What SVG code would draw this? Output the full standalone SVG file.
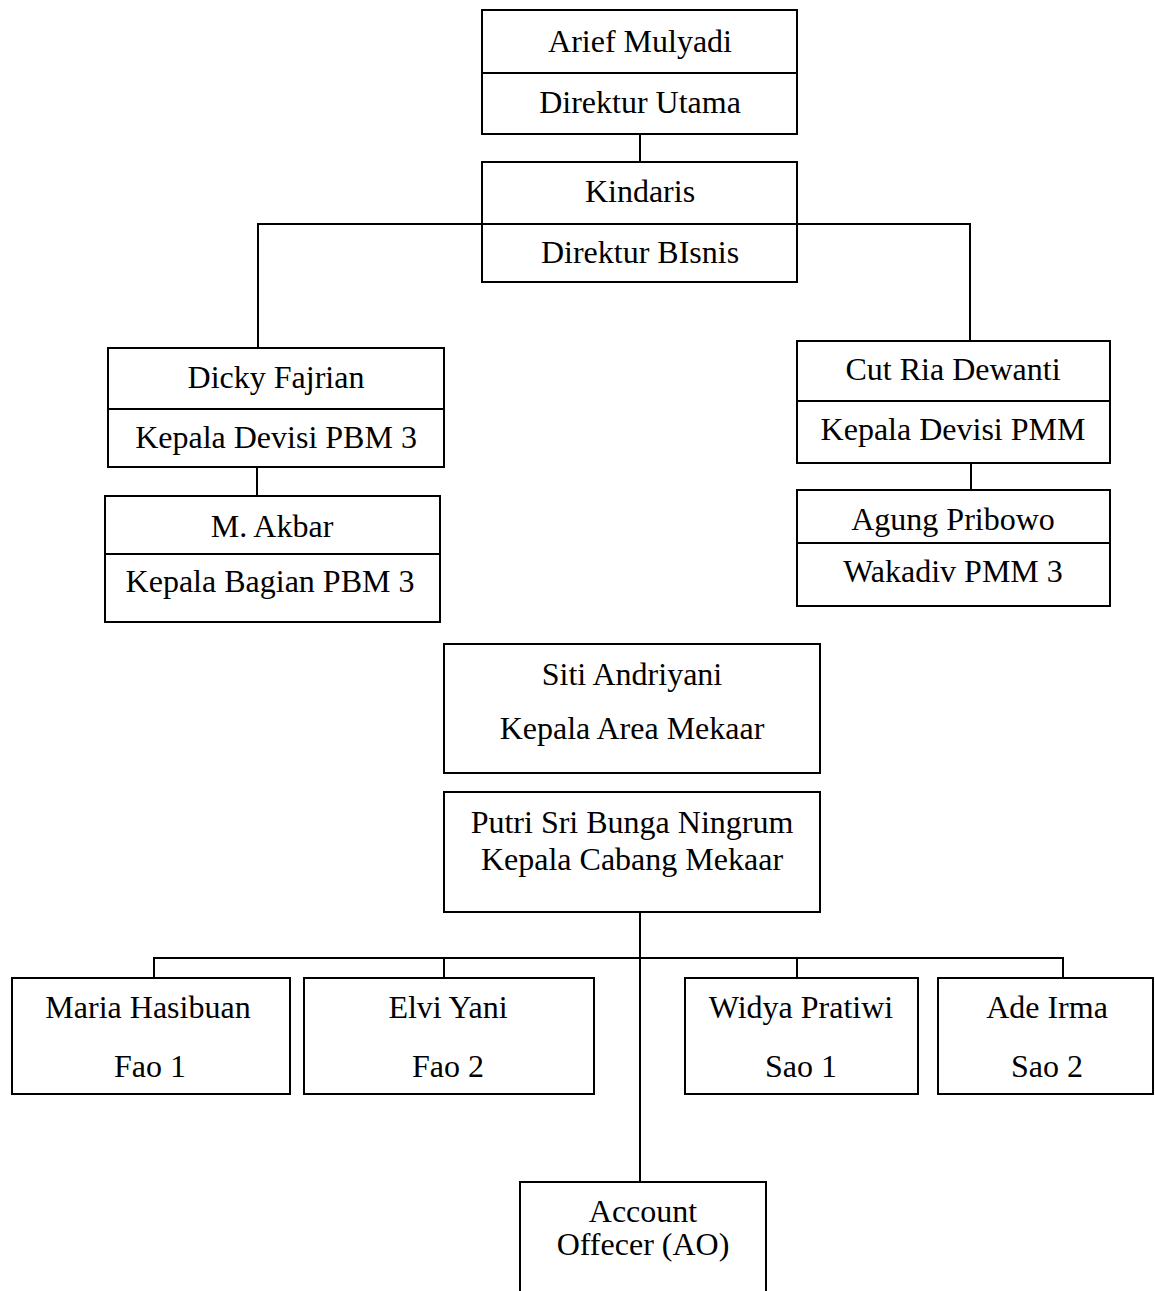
<svg xmlns="http://www.w3.org/2000/svg" width="1155" height="1291" viewBox="0 0 1155 1291">
<style>
.b{fill:#fff;stroke:#000;stroke-width:2}
.d{stroke:#000;stroke-width:2;fill:none}
.c{stroke:#000;stroke-width:2;fill:none}
text{font-family:"Liberation Serif","Times New Roman",serif;font-size:32px;fill:#000;text-anchor:middle}
</style>
<rect width="1155" height="1291" fill="#fff"/>
<g id="connectors">
<path class="c" d="M640,134 V162"/>
<path class="c" d="M258,348 V224 H482"/>
<path class="c" d="M797,224 H970 V341"/>
<path class="c" d="M257,467 V496"/>
<path class="c" d="M971,463 V490"/>
<path class="c" d="M640,912 V1182"/>
<path class="c" d="M154,978 V958 H1063 V978"/>
<path class="c" d="M444,958 V978"/>
<path class="c" d="M797,958 V978"/>
</g>
<g id="n-arief">
<rect class="b" x="482" y="10" width="315" height="124"/>
<line class="d" x1="482" y1="73" x2="797" y2="73"/>
<text x="640" y="52">Arief Mulyadi</text>
<text x="640" y="113">Direktur Utama</text>
</g>
<g id="n-kindaris">
<rect class="b" x="482" y="162" width="315" height="120"/>
<line class="d" x1="482" y1="224" x2="797" y2="224"/>
<text x="640" y="202">Kindaris</text>
<text x="640" y="263">Direktur BIsnis</text>
</g>
<g id="n-dicky">
<rect class="b" x="108" y="348" width="336" height="119"/>
<line class="d" x1="108" y1="409" x2="444" y2="409"/>
<text x="276" y="388">Dicky Fajrian</text>
<text x="276" y="448">Kepala Devisi PBM 3</text>
</g>
<g id="n-akbar">
<rect class="b" x="105" y="496" width="335" height="126"/>
<line class="d" x1="105" y1="554" x2="440" y2="554"/>
<text x="272" y="537">M. Akbar</text>
<text x="270" y="592">Kepala Bagian PBM 3</text>
</g>
<g id="n-cut">
<rect class="b" x="797" y="341" width="313" height="122"/>
<line class="d" x1="797" y1="401" x2="1110" y2="401"/>
<text x="953" y="380">Cut Ria Dewanti</text>
<text x="953" y="440">Kepala Devisi PMM</text>
</g>
<g id="n-agung">
<rect class="b" x="797" y="490" width="313" height="116"/>
<line class="d" x1="797" y1="543" x2="1110" y2="543"/>
<text x="953" y="530">Agung Pribowo</text>
<text x="953" y="582">Wakadiv PMM 3</text>
</g>
<g id="n-siti">
<rect class="b" x="444" y="644" width="376" height="129"/>
<text x="632" y="685">Siti Andriyani</text>
<text x="632" y="739">Kepala Area Mekaar</text>
</g>
<g id="n-putri">
<rect class="b" x="444" y="792" width="376" height="120"/>
<text x="632" y="833">Putri Sri Bunga Ningrum</text>
<text x="632" y="870">Kepala Cabang Mekaar</text>
</g>
<g id="n-maria">
<rect class="b" x="12" y="978" width="278" height="116"/>
<text x="148" y="1018">Maria Hasibuan</text>
<text x="150" y="1077">Fao 1</text>
</g>
<g id="n-elvi">
<rect class="b" x="304" y="978" width="290" height="116"/>
<text x="448" y="1018">Elvi Yani</text>
<text x="448" y="1077">Fao 2</text>
</g>
<g id="n-widya">
<rect class="b" x="685" y="978" width="233" height="116"/>
<text x="801" y="1018">Widya Pratiwi</text>
<text x="801" y="1077">Sao 1</text>
</g>
<g id="n-ade">
<rect class="b" x="938" y="978" width="215" height="116"/>
<text x="1047" y="1018">Ade Irma</text>
<text x="1047" y="1077">Sao 2</text>
</g>
<g id="n-ao">
<path class="b" d="M520,1292 V1182 H766 V1292"/>
<text x="643" y="1222">Account</text>
<text x="643" y="1255">Offecer (AO)</text>
</g>
</svg>
